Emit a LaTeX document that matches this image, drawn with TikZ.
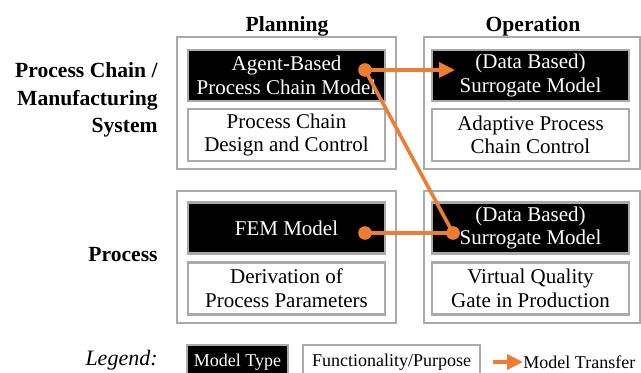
\documentclass[tikz,border=0pt]{standalone}
\usepackage{fontspec}
\setmainfont{Liberation Serif}
\usetikzlibrary{arrows.meta}
\definecolor{framegray}{RGB}{170,170,170}
\definecolor{transfer}{RGB}{237,125,49}

\begin{document}
\begin{tikzpicture}[x=0.5pt, y=-0.5pt,
    outerbox/.style={draw=framegray, line width=1.1pt},
    modelbox/.style={draw=framegray, line width=1.1pt, fill=black, text=white, align=center,
        minimum width=98.5pt, minimum height=25.5pt, inner sep=0pt,
        font=\fontsize{10.5}{11.8}\selectfont},
    funcbox/.style={modelbox, fill=white, text=black, minimum height=26pt},
    headlabel/.style={font=\fontsize{10.8}{13.7}\selectfont\bfseries},
    rowlabel/.style={headlabel, align=right, anchor=east, inner sep=0pt},
    dotnode/.style={circle, fill=transfer, inner sep=0pt, minimum size=6.8pt},
    transferline/.style={draw=transfer, line width=1.8pt},
    legendfont/.style={font=\fontsize{9}{11}\selectfont}]
    \useasboundingbox (0,0) rectangle (641,373);

    % column and row labels
    \node[headlabel] (plan) at (287,26) {Planning};
    \node[headlabel] (oper) at (533,26) {Operation};
    \node[rowlabel] (pcms) at (158,100) {Process Chain /\\Manufacturing\\System};
    \node[rowlabel] (proc) at (158,255) {Process};

    % outer frames
    \draw[outerbox] (177,37) rectangle (396,169);
    \draw[outerbox] (424,37) rectangle (640,169);
    \draw[outerbox] (177,191) rectangle (396,323);
    \draw[outerbox] (424,191) rectangle (640,323);

    % models and functions
    \node[modelbox] (abm) at (286.5,75.5) {Agent-Based\\Process Chain Model};
    \node[funcbox] (pcd) at (286.5,135) {Process Chain\\Design and Control};
    \node[modelbox] (sm1) at (530.5,75.5) {(Data Based)\\Surrogate Model};
    \node[funcbox] (apc) at (530.5,135) {Adaptive Process\\Chain Control};
    \node[modelbox] (fem) at (286.5,228) {FEM Model};
    \node[funcbox] (dpp) at (286.5,288.5) {Derivation of\\Process Parameters};
    \node[modelbox] (sm2) at (530.5,228) {(Data Based)\\Surrogate Model};
    \node[funcbox] (vqg) at (530.5,288.5) {Virtual Quality\\Gate in Production};

    % model transfer
    \node[dotnode] (abmdot) at (365,70) {};
    \node[dotnode] (femdot) at (365,233) {};
    \node[dotnode] (sm2dot) at (453,233) {};
    \coordinate (sm1tip) at (455,70);
    \draw[transferline, -{Triangle[length=8pt,width=7.5pt]}] (abmdot.center) -- (sm1tip);
    \draw[transferline] (abmdot.center) -- (sm2dot.center);
    \draw[transferline] (femdot.center) -- (sm2dot.center);

    % legend
    \node[anchor=east, inner sep=0pt, font=\fontsize{11}{13}\selectfont\itshape] (leg) at (158,360) {Legend:};
    \node[modelbox, legendfont, minimum width=50.5pt, minimum height=17pt] (legmt) at (237.5,362) {Model Type};
    \node[funcbox, legendfont, minimum width=88.5pt, minimum height=17pt] (legfp) at (391.5,362) {Functionality/Purpose};
    \coordinate (legstart) at (493,362);
    \node[anchor=west, inner sep=0pt, legendfont] (legtr) at (523,362) {Model Transfer};
    \draw[transferline, -{Triangle[length=8pt,width=7.5pt]}] (legstart) -- (legtr.west);
\end{tikzpicture}
\end{document}
